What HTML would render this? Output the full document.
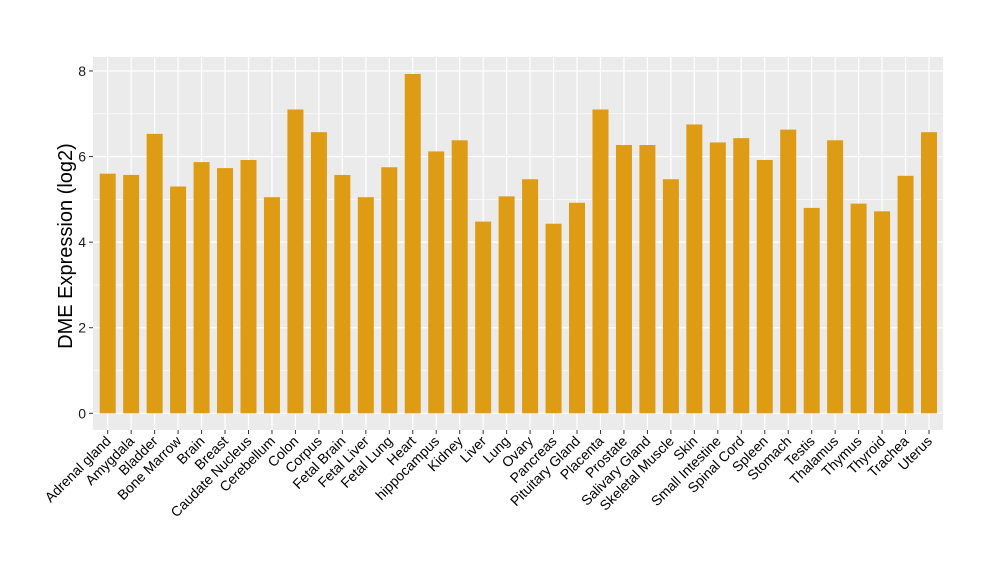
<!DOCTYPE html>
<html><head><meta charset="utf-8"><style>body{margin:0;background:#fff}svg{display:block}</style></head><body>
<svg id="s" width="1000" height="580" xmlns="http://www.w3.org/2000/svg" font-family="Liberation Sans, sans-serif">
<rect x="93" y="57" width="850" height="373" fill="#ebebeb"/>
<g id="g"></g>
<text transform="translate(72,246) rotate(-90)" text-anchor="middle" font-size="20" fill="#000">DME Expression (log2)</text>
</svg>
<script>
var names=["Adrenal gland","Amygdala","Bladder","Bone Marrow","Brain","Breast","Caudate Nucleus","Cerebellum","Colon","Corpus","Fetal Brain","Fetal Liver","Fetal Lung","Heart","hippocampus","Kidney","Liver","Lung","Ovary","Pancreas","Pituitary Gland","Placenta","Prostate","Salivary Gland","Skeletal Muscle","Skin","Small Intestine","Spinal Cord","Spleen","Stomach","Testis","Thalamus","Thymus","Thyroid","Trachea","Uterus"];
var v=[5.6,5.57,6.53,5.3,5.87,5.73,5.92,5.05,7.1,6.57,5.57,5.05,5.75,7.93,6.12,6.38,4.48,5.07,5.47,4.43,4.92,7.1,6.27,6.27,5.47,6.75,6.33,6.43,5.92,6.63,4.8,6.38,4.9,4.72,5.55,6.57];
var y0=413.3,k=42.79,h='';
for(var i=0;i<=8;i++){var y=y0-i*k;h+='<line x1="93" x2="943" y1="'+y+'" y2="'+y+'" stroke="#fff" stroke-width="'+(i%2?0.6:1.2)+'"/>';}
for(var i=0;i<=8;i+=2){var y=y0-i*k;h+='<line x1="89" x2="93" y1="'+y+'" y2="'+y+'" stroke="#333"/><text x="86" y="'+(y+5)+'" text-anchor="end" font-size="14" fill="#1a1a1a">'+i+'</text>';}
for(var i=0;i<36;i++){var x=107.7+i*23.466;
h+='<line x1="'+x+'" x2="'+x+'" y1="57" y2="430" stroke="#fff" stroke-width="1.2"/>';}
for(var i=0;i<36;i++){var x=107.7+i*23.466,t=y0-v[i]*k;
h+='<rect x="'+(x-8)+'" y="'+t+'" width="16" height="'+(y0-t)+'" fill="#de9b14"/>';
h+='<line x1="'+x+'" x2="'+x+'" y1="430" y2="434" stroke="#333"/>';
h+='<text transform="translate('+(x+4)+',442) rotate(-45)" text-anchor="end" font-size="14" fill="#000">'+names[i]+'</text>';}
document.getElementById('g').innerHTML=h;
</script>
</body></html>
